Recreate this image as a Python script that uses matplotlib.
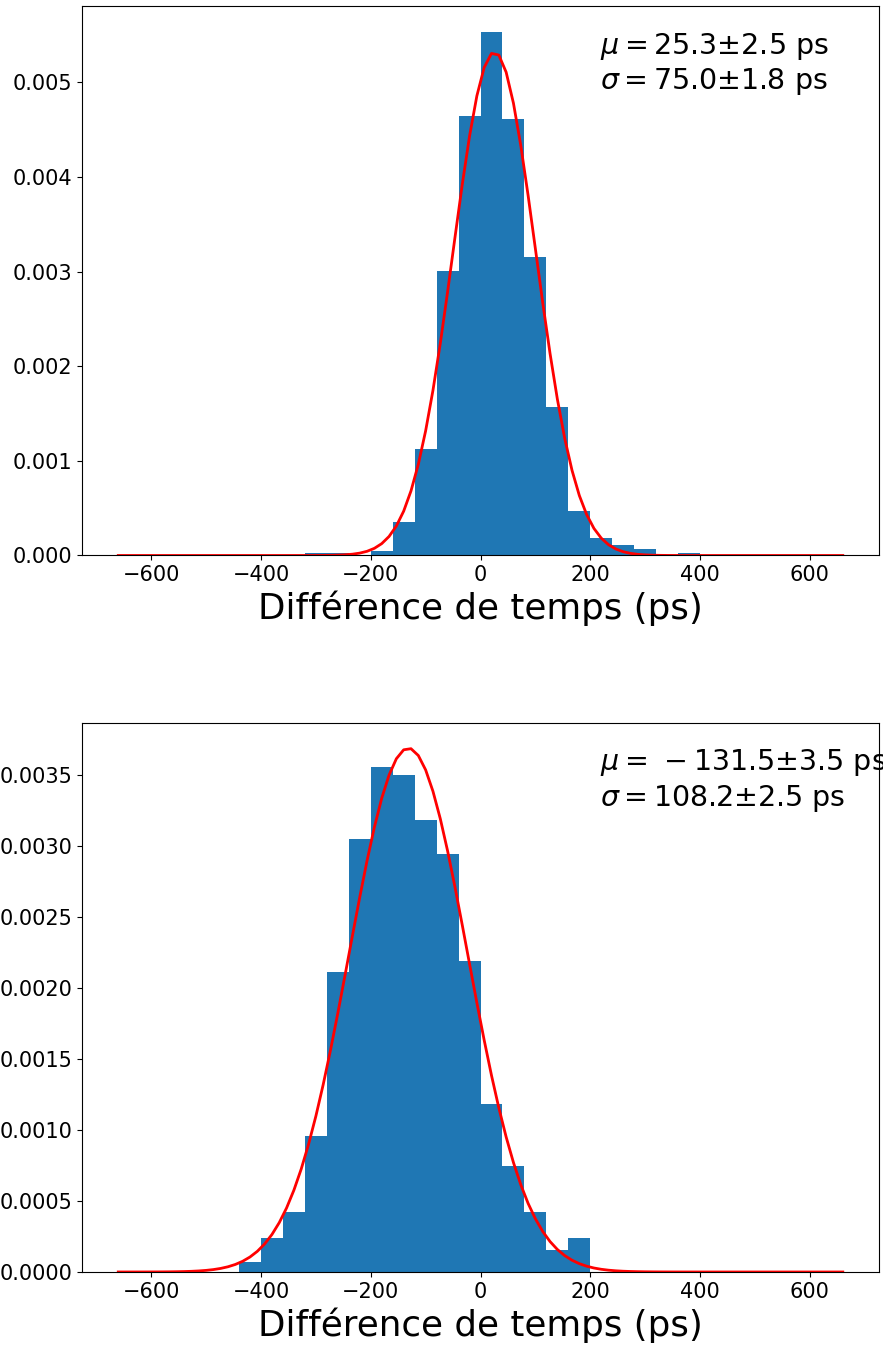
import numpy as np
import matplotlib
matplotlib.use("Agg")
import matplotlib.pyplot as plt

# histogram bins (ps), 40 ps wide, density values
edges_top = np.arange(-320, 401, 40)
dens_top = [0.00003, 0.00003, 0.0, 0.00005, 0.00035, 0.00113, 0.00301, 0.00464,
            0.00553, 0.00461, 0.00315, 0.00157, 0.000465, 0.00019, 0.000106,
            0.00007, 0.0, 0.00003]
mu_top, dmu_top = 25.3, 2.5
sig_top, dsig_top = 75.0, 1.8

edges_bot = np.arange(-440, 201, 40)
dens_bot = [0.00007, 0.00024, 0.00042, 0.00096, 0.00211, 0.00305, 0.003556,
            0.0035, 0.00318, 0.00294, 0.00219, 0.00118, 0.000746, 0.00042,
            0.000155, 0.00024]
mu_bot, dmu_bot = -131.5, 3.5
sig_bot, dsig_bot = 108.2, 2.5

x_fit = np.linspace(-660, 660, 100)


def gauss(x, mu, sig):
    return np.exp(-0.5 * ((x - mu) / sig) ** 2) / (sig * np.sqrt(2 * np.pi))


def fmt(v):
    # old mathtext put a gap after '=' for a negative number
    s = "%.1f" % v
    return s.replace("-", r"\,-")


fig, axes = plt.subplots(2, 1, figsize=(8.83, 13.46), dpi=100)
fig.subplots_adjust(left=0.0929, right=0.9955, top=0.9955, bottom=0.055, hspace=0.304)

panels = [(edges_top, dens_top, mu_top, dmu_top, sig_top, dsig_top),
          (edges_bot, dens_bot, mu_bot, dmu_bot, sig_bot, dsig_bot)]

for ax, (edges, dens, mu, dmu, sig, dsig) in zip(axes, panels):
    ax.hist(edges[:-1] + 20, bins=edges, weights=dens, color="#1f77b4")
    ax.plot(x_fit, gauss(x_fit, mu, sig), color="red", linewidth=2)
    ax.set_xlabel("Différence de temps (ps)", fontsize=25.7)
    ax.tick_params(labelsize=15)
    ax.set_xticks([-600, -400, -200, 0, 200, 400, 600])
    txt = (r"$\mu = %s$±%.1f ps" % (fmt(mu), dmu) + "\n"
           + r"$\sigma = %s$±%.1f ps" % (fmt(sig), dsig))
    ax.text(0.65, 0.955, txt, transform=ax.transAxes, va="top", fontsize=20.5)

fig.savefig("out.png", dpi=100)
